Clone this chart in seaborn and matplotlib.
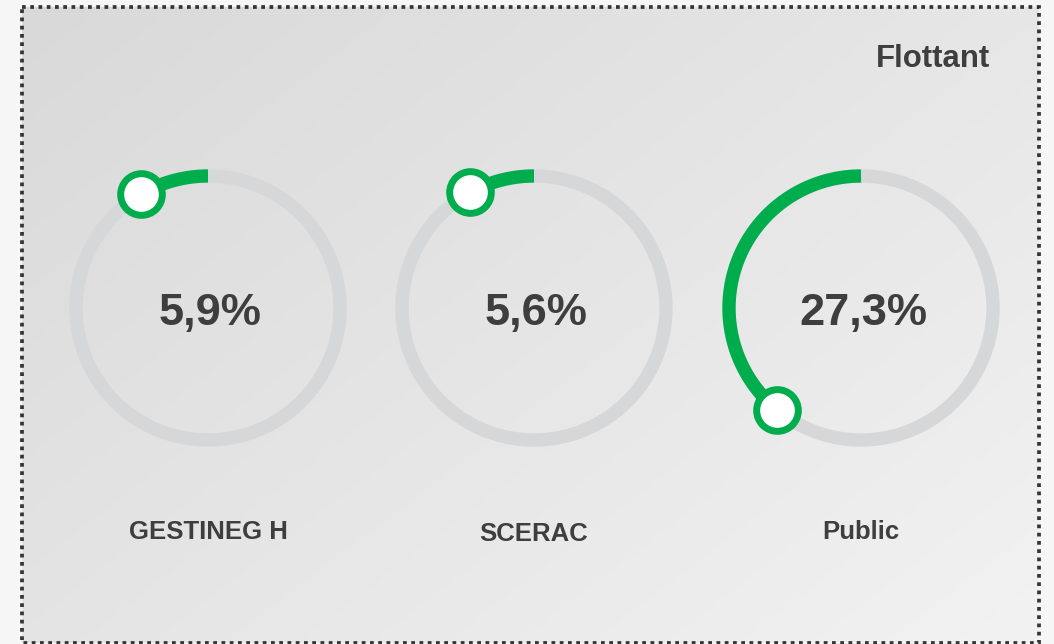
import numpy as np
import matplotlib
matplotlib.use("Agg")
import matplotlib.pyplot as plt
import seaborn as sns
from matplotlib.colors import LinearSegmentedColormap
from matplotlib.patches import Rectangle

# ---- data ----
categories = ["GESTINEG H", "SCERAC", "Public"]
values = [5.9, 5.6, 27.3]
value_labels = ["5,9%", "5,6%", "27,3%"]
title = "Flottant"

# ---- style ----
sns.set_theme(style="white")
plt.rcParams["font.family"] = ["Liberation Sans", "DejaVu Sans"]

GREEN = "#00ad4c"
RING = "#d6d7d9"
TEXT = "#3e3e3e"
GAUGE_MAX = 70.0  # value represented by a full turn of the gauge

W, H = 1054, 644
fig = plt.figure(figsize=(W / 100, H / 100), dpi=100, facecolor="#f6f6f6")

# background panel with gradient and dotted frame
bg = fig.add_axes([0, 0, 1, 1])
L, T, R, B = 22, 7, 1039, 643
gx = np.linspace(0, 1, 256)
gy = np.linspace(0, 1, 256)
G = 0.55 * gx[None, :] + 0.45 * gy[:, None]
cmap = LinearSegmentedColormap.from_list("bg", ["#d9d9d9", "#f2f2f2"])
bg.imshow(G, extent=[L, R, B, T], cmap=cmap, aspect="auto",
          interpolation="bilinear", zorder=0)
bg.add_patch(Rectangle((L, T), R - L, B - T, fill=False, edgecolor="#353535",
                       linewidth=2.7, linestyle=(0, (1, 1.2)), zorder=2))
bg.set_xlim(0, W)
bg.set_ylim(H, 0)
bg.axis("off")

bg.text(990, 66.5, title, ha="right", va="baseline", fontsize=22.4,
        fontweight="bold", color=TEXT)

centers_x = [208, 534, 861]
label_baselines = [539, 541, 539]
cy = 308
ring_r = 132
half = 150

for cx, v, lab, vl, lb in zip(centers_x, values, categories, value_labels, label_baselines):
    ax = fig.add_axes([(cx - half) / W, (H - cy - half) / H, 2 * half / W, 2 * half / H],
                      projection="polar")
    ax.set_theta_zero_location("N")
    ax.set_theta_direction(1)
    ax.patch.set_alpha(0)

    th_full = np.linspace(0, 2 * np.pi, 361)
    ax.plot(th_full, np.full_like(th_full, ring_r), color=RING, lw=9.6,
            solid_capstyle="butt", zorder=1)

    th_end = 2 * np.pi * v / GAUGE_MAX
    th = np.linspace(0, th_end, 120)
    sns.lineplot(x=th, y=np.full_like(th, ring_r), ax=ax, color=GREEN,
                 linewidth=9.6, sort=False, estimator=None,
                 solid_capstyle="butt", zorder=2)
    sns.scatterplot(x=[th_end], y=[ring_r], ax=ax, s=900, color="white",
                    edgecolor=GREEN, linewidth=5, zorder=5, clip_on=False)
    ax.set_ylim(0, half)
    ax.axis("off")

    bg.text(cx + 2, 325, vl, ha="center", va="baseline", fontsize=32.5,
            fontweight="bold", color=TEXT)
    bg.text(cx, lb, lab, ha="center", va="baseline", fontsize=18.5,
            fontweight="bold", color=TEXT)

fig.savefig("out.png", dpi=100, facecolor=fig.get_facecolor())
